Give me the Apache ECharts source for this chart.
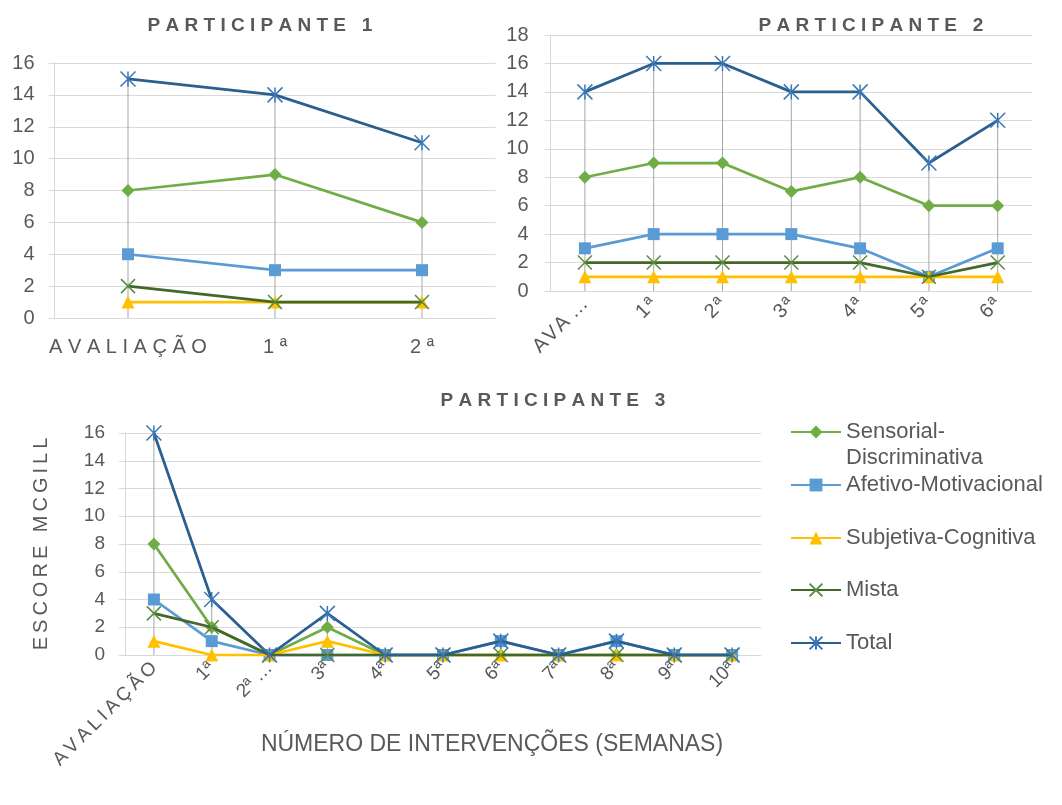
<!DOCTYPE html>
<html>
<head>
<meta charset="utf-8">
<script src="https://cdn.jsdelivr.net/npm/echarts@6/dist/echarts.min.js"></script>
<style>
  html, body { margin: 0; padding: 0; background: #ffffff; }
  #chart { width: 1062px; height: 805px; }
</style>
</head>
<body>
<div id="chart"></div>
<script>
// McGill pain scores by dimension, per participant
const seriesNames = ['Sensorial-Discriminativa', 'Afetivo-Motivacional', 'Subjetiva-Cognitiva', 'Mista', 'Total'];

const p1Categories = ['AVALIAÇÃO', '1ª', '2ª'];
const p1Sensorial = [8, 9, 6];
const p1Afetivo   = [4, 3, 3];
const p1Subjetiva = [1, 1, 1];
const p1Mista     = [2, 1, 1];
const p1Total     = [15, 14, 11];

const p2Categories = ['AVALIAÇÃO', '1ª', '2ª', '3ª', '4ª', '5ª', '6ª'];
const p2Sensorial = [8, 9, 9, 7, 8, 6, 6];
const p2Afetivo   = [3, 4, 4, 4, 3, 1, 3];
const p2Subjetiva = [1, 1, 1, 1, 1, 1, 1];
const p2Mista     = [2, 2, 2, 2, 2, 1, 2];
const p2Total     = [14, 16, 16, 14, 14, 9, 12];

const p3Categories = ['AVALIAÇÃO', '1ª', '2ª …', '3ª', '4ª', '5ª', '6ª', '7ª', '8ª', '9ª', '10ª'];
const p3Sensorial = [8, 2, 0, 2, 0, 0, 0, 0, 0, 0, 0];
const p3Afetivo   = [4, 1, 0, 0, 0, 0, 1, 0, 1, 0, 0];
const p3Subjetiva = [1, 0, 0, 1, 0, 0, 0, 0, 0, 0, 0];
const p3Mista     = [3, 2, 0, 0, 0, 0, 0, 0, 0, 0, 0];
const p3Total     = [16, 4, 0, 3, 0, 0, 1, 0, 1, 0, 0];

const panelTitles = ['PARTICIPANTE 1', 'PARTICIPANTE 2', 'PARTICIPANTE 3'];
const p3YName = 'ESCORE MCGILL';
const p3XName = 'NÚMERO DE INTERVENÇÕES (SEMANAS)';

const TEXT = '#595959';
const GRID = '#D9D9D9';
const SANS = "'Liberation Sans', Arial, sans-serif";
const HAIR = '\u200A';
const THIN = '\u2009';

// widen the tracking of a label by putting a space between its letters
function spaced(s, sep) {
  return Array.from(s).join(sep === undefined ? ' ' : sep);
}
// long category names are cut short in the narrow second panel
function shortLabel(s) {
  return s.length > 4 ? spaced(s.slice(0, 3), HAIR) + ' …' : spaced(s, HAIR);
}

const looks = [
  { symbol: 'diamond', size: 13, line: '#70AD47', mark: '#70AD47', stroke: 0 },
  { symbol: 'rect', size: 12, line: '#5B9BD5', mark: '#5B9BD5', stroke: 0 },
  { symbol: 'triangle', size: 13, line: '#FFC000', mark: '#FFC000', stroke: 0 },
  { symbol: 'path://M0,0L10,10M10,0L0,10', size: 14, line: '#43682B', mark: '#5A8C3C', stroke: 1.5 },
  { symbol: 'path://M0,0L10,10M10,0L0,10M5,0L5,10', size: 15, line: '#2A5F91', mark: '#3A78B5', stroke: 1.5 }
];

const panels = [
  { cats: p1Categories, values: [p1Sensorial, p1Afetivo, p1Subjetiva, p1Mista, p1Total], drop: p1Total },
  { cats: p2Categories, values: [p2Sensorial, p2Afetivo, p2Subjetiva, p2Mista, p2Total], drop: p2Total },
  { cats: p3Categories, values: [p3Sensorial, p3Afetivo, p3Subjetiva, p3Mista, p3Total], drop: p3Total }
];

const series = [];
panels.forEach((p, gi) => {
  // grey drop lines from the highest point of each category down to zero
  series.push({
    type: 'bar', xAxisIndex: gi, yAxisIndex: gi, data: p.drop,
    barWidth: 1, silent: true, z: 1,
    itemStyle: { color: '#A6A6A6' }
  });
  p.values.forEach((vals, si) => {
    const lk = looks[si];
    series.push({
      name: seriesNames[si], type: 'line', xAxisIndex: gi, yAxisIndex: gi, data: vals,
      symbol: lk.symbol, symbolSize: lk.size, z: 2 + si,
      color: lk.mark,
      lineStyle: { color: lk.line, width: 2.75 },
      itemStyle: { color: lk.mark, borderColor: lk.mark, borderWidth: lk.stroke },
      emphasis: { disabled: true }
    });
  });
});

function catAxis(gi, data, label) {
  return {
    type: 'category', gridIndex: gi, data: data, boundaryGap: true,
    axisLine: { show: true, lineStyle: { color: GRID, width: 1 } },
    axisTick: { show: false },
    axisLabel: Object.assign({ color: TEXT, fontFamily: SANS, fontSize: 18, interval: 0 }, label)
  };
}
function valAxis(gi, max, size, margin) {
  return {
    type: 'value', gridIndex: gi, min: 0, max: max, interval: 2,
    axisLine: { show: true, lineStyle: { color: GRID, width: 1 } },
    axisTick: { show: true, length: 6, lineStyle: { color: GRID } },
    splitLine: { lineStyle: { color: GRID, width: 1 } },
    axisLabel: { color: TEXT, fontFamily: SANS, fontSize: size, margin: margin }
  };
}

const xAxes = [
  catAxis(0, p1Categories, { fontSize: 20, margin: 19, formatter: v => spaced(v) }),
  catAxis(1, p2Categories, { fontSize: 20, margin: 10, rotate: 45, formatter: shortLabel }),
  Object.assign(catAxis(2, p3Categories, { fontSize: 19, margin: 10, rotate: 45,
    formatter: v => (v.length > 4 ? spaced(v, THIN) : v) }), {
    name: p3XName, nameLocation: 'middle', nameGap: 78, nameMoveOverlap: false,
    nameTextStyle: { color: TEXT, fontFamily: SANS, fontSize: 23, padding: [0, 0, 0, 98] }
  })
];
const yAxes = [
  valAxis(0, 16, 20, 20),
  valAxis(1, 18, 20, 22),
  Object.assign(valAxis(2, 16, 19, 20), {
    name: spaced(p3YName, THIN), nameLocation: 'middle', nameRotate: 90, nameGap: 74,
    nameMoveOverlap: false,
    nameTextStyle: { color: TEXT, fontFamily: SANS, fontSize: 20 }
  })
];

const legendCenters = [432, 485, 538, 590, 643];
const legends = seriesNames.map((n, i) => ({
  data: [n], orient: 'vertical', left: 790,
  top: i === 0 ? legendCenters[i] - 39 : legendCenters[i] - 11.5,
  padding: 0, itemWidth: 50, itemHeight: 16, itemGap: 0, selectedMode: false,
  formatter: i === 0 ? '\nSensorial-\nDiscriminativa' : '{name}',
  textStyle: { color: TEXT, fontFamily: SANS, fontSize: 22, lineHeight: i === 0 ? 26 : 23 }
}));

const titleStyle = { color: TEXT, fontFamily: SANS, fontSize: 19, fontWeight: 'bold' };
const option = {
  animation: false,
  backgroundColor: '#ffffff',
  title: [
    { text: spaced(panelTitles[0]), left: 255, top: 11, textAlign: 'center', textStyle: titleStyle },
    { text: spaced(panelTitles[1]), left: 866, top: 11, textAlign: 'center', textStyle: titleStyle },
    { text: spaced(panelTitles[2]), left: 548, top: 386, textAlign: 'center', textStyle: titleStyle }
  ],
  legend: legends,
  grid: [
    { left: 54.5, top: 63, width: 441, height: 255 },
    { left: 550.5, top: 35, width: 481.6, height: 256 },
    { left: 125, top: 433, width: 636, height: 222 }
  ],
  xAxis: xAxes,
  yAxis: yAxes,
  series: series
};

const chart = echarts.init(document.getElementById('chart'), null, { renderer: 'canvas' });
chart.setOption(option);
</script>
</body>
</html>
